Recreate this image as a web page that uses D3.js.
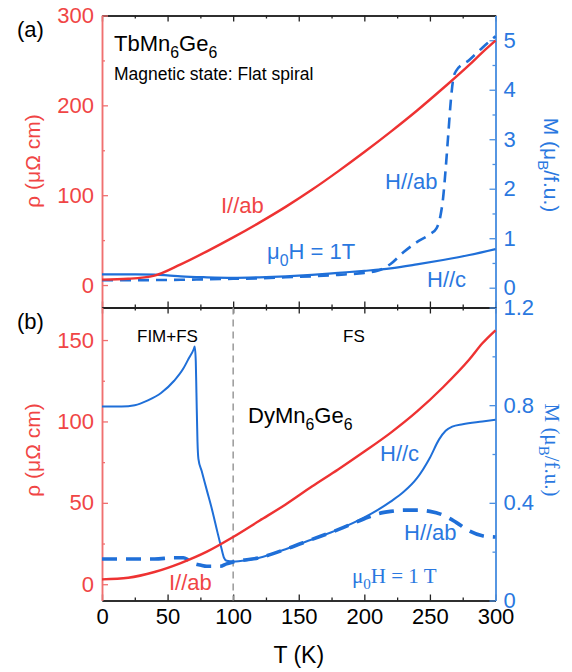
<!DOCTYPE html>
<html>
<head>
<meta charset="utf-8">
<script src="https://cdn.jsdelivr.net/npm/d3@7"></script>
<style>
  body { margin: 0; background: #fff; }
</style>
</head>
<body>
<svg width="572" height="672"></svg>
<script>
// ---- data ----
// (a) TbMn6Ge6
var tRhoA = [0, 20, 40, 60, 80, 100, 120, 140, 160, 180, 200, 220, 240, 260, 280, 290, 300];
var rhoA  = [6, 7, 10.5, 23, 37.5, 53, 69.5, 87, 106, 126.5, 148, 170.5, 194, 219, 245, 259, 272];

var tMcA = [0, 20, 40, 50, 60, 80, 100, 120, 140, 160, 180, 200, 220, 240, 260, 280, 300];
var McA  = [0.27, 0.27, 0.265, 0.25, 0.23, 0.21, 0.2, 0.21, 0.23, 0.26, 0.3, 0.34, 0.39, 0.47, 0.56, 0.66, 0.78];

var tMabA = [0, 20, 40, 60, 80, 100, 120, 140, 160, 180, 200, 210, 220, 230, 240, 250, 255, 258, 260, 262, 264, 266, 268, 270, 280, 290, 300];
var MabA  = [0.15, 0.15, 0.155, 0.16, 0.17, 0.18, 0.19, 0.21, 0.23, 0.26, 0.3, 0.34, 0.48, 0.72, 0.92, 1.08, 1.2, 1.45, 1.8, 2.4, 3.1, 3.8, 4.25, 4.38, 4.6, 4.85, 5.08];

// (b) DyMn6Ge6
var tRhoB = [0, 20, 40, 60, 80, 100, 120, 140, 160, 180, 200, 220, 240, 260, 280, 290, 300];
var rhoB  = [3, 4, 7.5, 13, 20, 29, 39, 49, 60, 70.5, 81.5, 93, 106, 121, 138, 148, 156];

var tMcB = [0, 15, 25, 35, 45, 55, 62, 66, 70, 70.7, 71.5, 72, 72.8, 73.5, 76, 80, 84, 88, 91, 93, 95, 100, 110, 120, 140, 160, 180, 200, 210, 220, 230, 240, 250, 257, 262, 267, 275, 290, 300];
var McB  = [0.795, 0.795, 0.8, 0.82, 0.85, 0.9, 0.95, 0.99, 1.03, 1.04, 0.98, 0.85, 0.65, 0.58, 0.53, 0.45, 0.37, 0.28, 0.215, 0.175, 0.163, 0.16, 0.165, 0.175, 0.21, 0.25, 0.29, 0.34, 0.37, 0.405, 0.445, 0.5, 0.585, 0.66, 0.695, 0.712, 0.722, 0.733, 0.74];

var tMabB = [0, 20, 40, 55, 62, 66, 70, 75, 80, 90, 95, 100, 120, 140, 160, 180, 200, 210, 220, 230, 240, 250, 260, 270, 280, 290, 300];
var MabB  = [0.17, 0.17, 0.17, 0.175, 0.175, 0.165, 0.152, 0.145, 0.14, 0.14, 0.15, 0.158, 0.175, 0.21, 0.25, 0.29, 0.335, 0.355, 0.365, 0.37, 0.37, 0.365, 0.35, 0.32, 0.285, 0.265, 0.26];

var xMajor = [0, 50, 100, 150, 200, 250, 300],
    xMinor = [25, 75, 125, 175, 225, 275];

var sans = "'Liberation Sans', Arial, sans-serif",
    serif = "'Liberation Serif', 'Times New Roman', serif";

var red = "#ee3232", redAxis = "#f07070", redText = "#f04545",
    blue = "#1f6fd8", blueAxis = "#4b8fe0", blueText = "#2a78e0";

var svg = d3.select("svg");

var x = d3.scaleLinear().domain([0, 300]).range([102, 495.5]);
var yRhoA = d3.scaleLinear().domain([-25, 300]).range([307.5, 15.5]);
var yMA = d3.scaleLinear().domain([-0.4, 5.5]).range([307.5, 15.5]);
var yRhoB = d3.scaleLinear().domain([-10, 170]).range([600.5, 307.5]);
var yMB = d3.scaleLinear().domain([0, 1.2]).range([600.5, 307.5]);

function drawAxis(gen, scale, tr, major, minor, color, textColor, fmt) {
  var g1 = svg.append("g").attr("transform", tr)
    .call(gen(scale).tickValues(minor).tickSizeInner(-3).tickSizeOuter(0).tickFormat(""));
  var g2 = svg.append("g").attr("transform", tr)
    .call(gen(scale).tickValues(major).tickSizeInner(-6).tickSizeOuter(0).tickPadding(8)
      .tickFormat(fmt || ""));
  [g1, g2].forEach(function(g) {
    g.select(".domain").attr("stroke", color).attr("stroke-width", 1.5);
    g.selectAll(".tick line").attr("stroke", color).attr("stroke-width", 1.3);
    g.selectAll("text").attr("fill", textColor).attr("font-size", 22).attr("font-family", sans);
  });
  return g2;
}

// panel a axes
drawAxis(d3.axisTop, x, "translate(0,15.5)", xMajor, xMinor, "#222", "#000");
drawAxis(d3.axisBottom, x, "translate(0,307.5)", xMajor, xMinor, "#222", "#000");
drawAxis(d3.axisLeft, yRhoA, "translate(102,0)", [0, 100, 200, 300], [50, 150, 250], redAxis, redText, d3.format("d"));
drawAxis(d3.axisRight, yMA, "translate(495.5,0)", [0, 1, 2, 3, 4, 5], [0.5, 1.5, 2.5, 3.5, 4.5], blueAxis, blueText, d3.format("d"));

// panel b axes
drawAxis(d3.axisTop, x, "translate(0,307.5)", xMajor, xMinor, "#222", "#000");
drawAxis(d3.axisBottom, x, "translate(0,600.5)", xMajor, xMinor, "#222", "#000", d3.format("d"));
drawAxis(d3.axisLeft, yRhoB, "translate(102,0)", [0, 50, 100, 150], [25, 75, 125], redAxis, redText, d3.format("d"));
drawAxis(d3.axisRight, yMB, "translate(495.5,0)", [0, 0.4, 0.8, 1.2], [0.2, 0.6, 1.0], blueAxis, blueText, function(d) { return d === 0 ? "0" : d3.format(".1f")(d); });

// dashed separator at 100 K in (b)
svg.append("line")
  .attr("x1", x(100)).attr("x2", x(100))
  .attr("y1", yMB(1.2)).attr("y2", yMB(0))
  .attr("stroke", "#999").attr("stroke-width", 1.5)
  .attr("stroke-dasharray", "7,5");

function curve(ts, vs, ys, color, width, dash) {
  var pts = ts.map(function(t, i) { return [t, vs[i]]; });
  var line = d3.line()
    .x(function(d) { return x(d[0]); })
    .y(function(d) { return ys(d[1]); })
    .curve(d3.curveMonotoneX);
  var p = svg.append("path").datum(pts)
    .attr("d", line)
    .attr("fill", "none")
    .attr("stroke", color)
    .attr("stroke-width", width);
  if (dash) p.attr("stroke-dasharray", dash);
}

curve(tMcA, McA, yMA, blue, 2.2);
curve(tMabA, MabA, yMA, blue, 2.6, "11,7");
curve(tRhoA, rhoA, yRhoA, red, 2.4);

curve(tMcB, McB, yMB, blue, 2);
curve(tMabB, MabB, yMB, blue, 3.6, "15,9");
curve(tRhoB, rhoB, yRhoB, red, 2.4);

// text with subscripts
function rich(xp, yp, parts, size, color, family, rot) {
  var t = svg.append("text")
    .attr("font-size", size).attr("font-family", family).attr("fill", color);
  if (rot) {
    t.attr("transform", "translate(" + xp + "," + yp + ") rotate(" + rot + ")")
     .attr("text-anchor", "middle");
  } else {
    t.attr("x", xp).attr("y", yp);
  }
  var down = false, sh = size * 0.3;
  parts.forEach(function(p) {
    var sub = typeof p !== "string";
    var ts = t.append("tspan").text(sub ? p.sub : p);
    if (sub) {
      ts.attr("font-size", size * 0.72);
      if (!down) { ts.attr("dy", sh); down = true; }
    } else if (down) {
      ts.attr("dy", -sh); down = false;
    }
  });
  return t;
}

// panel a labels
rich(17, 37, ["(a)"], 22, "#000", sans);
rich(114, 51, ["TbMn", {sub: "6"}, "Ge", {sub: "6"}], 22, "#000", sans);
rich(114, 80, ["Magnetic state: Flat spiral"], 17.5, "#000", sans);
rich(221, 213, ["I//ab"], 22, redText, sans);
rich(267, 259, ["\u03bc", {sub: "0"}, "H = 1T"], 22, blueText, sans);
rich(385, 189, ["H//ab"], 22, blueText, sans);
rich(427, 287, ["H//c"], 22, blueText, sans);
rich(40, 161, ["\u03c1 (\u03bc\u03a9 cm)"], 21, redText, sans, -90);
rich(544, 165, ["M (\u03bc", {sub: "B"}, "/f.u.)"], 21, blueText, sans, 90);

// panel b labels
rich(17, 329, ["(b)"], 22, "#000", sans);
rich(137, 342, ["FIM+FS"], 17, "#000", sans);
rich(343, 342, ["FS"], 17, "#000", sans);
rich(248, 423, ["DyMn", {sub: "6"}, "Ge", {sub: "6"}], 22, "#000", sans);
rich(380, 461, ["H//c"], 22, blueText, sans);
rich(404, 540, ["H//ab"], 22, blueText, sans);
rich(352, 583, ["\u03bc", {sub: "0"}, "H = 1 T"], 21, blueText, serif);
rich(169, 590, ["I//ab"], 22, redText, sans);
rich(40, 450, ["\u03c1 (\u03bc\u03a9 cm)"], 21, redText, sans, -90);
rich(545, 450, ["M (\u03bc", {sub: "B"}, "/f.u.)"], 21, blueText, serif, 90);

// x title
svg.append("text")
  .attr("x", x(150)).attr("y", 663)
  .attr("text-anchor", "middle")
  .attr("font-size", 23).attr("font-family", sans)
  .text("T (K)");
</script>
</body>
</html>
